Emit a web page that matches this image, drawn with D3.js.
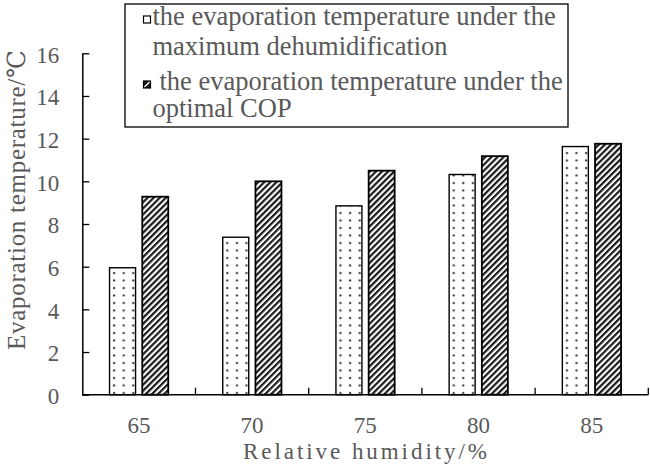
<!DOCTYPE html>
<html>
<head>
<meta charset="utf-8">
<script src="https://cdn.jsdelivr.net/npm/d3@7"></script>
<style>
    body { margin: 0; background: #fff; }
</style>
</head>
<body>
<div id="chart"></div>
<script>
// chart values
var categories = ['65', '70', '75', '80', '85'];
var seriesNames = [
    ['the evaporation temperature under the', 'maximum dehumidification'],
    ['the evaporation temperature under the', 'optimal COP'],
];
var maxDehumidification = [5.95, 7.38, 8.85, 10.32, 11.63];
var optimalCop = [9.28, 10.0, 10.5, 11.18, 11.76];
var yTicks = [0, 2, 4, 6, 8, 10, 12, 14, 16];

var FONT = '"Liberation Serif", "Times New Roman", "DejaVu Serif", serif';
var TEXT = '#595959';

var width = 650, height = 465;
var margin = {left: 82.3, right: 1.7, top: 53.3, bottom: 70.3};

var svg = d3.select('#chart').append('svg')
    .attr('width', width)
    .attr('height', height)
    .attr('font-family', FONT);

var defs = svg.append('defs');

var dots = defs.append('pattern')
    .attr('id', 'dots')
    .attr('patternUnits', 'userSpaceOnUse')
    .attr('width', 9.6)
    .attr('height', 7.5);
dots.append('rect').attr('width', 9.6).attr('height', 7.5).attr('fill', '#fff');
dots.append('circle').attr('cx', 3).attr('cy', 3).attr('r', 1.1).attr('fill', '#333');

var hatch = defs.append('pattern')
    .attr('id', 'hatch')
    .attr('patternUnits', 'userSpaceOnUse')
    .attr('width', 4.3)
    .attr('height', 10)
    .attr('patternTransform', 'rotate(45)');
hatch.append('rect').attr('width', 4.3).attr('height', 10).attr('fill', '#fff');
hatch.append('rect').attr('width', 2.2).attr('height', 10).attr('fill', '#1a1a1a');

var x0 = d3.scaleBand()
    .domain(categories)
    .range([margin.left, width - margin.right])
    .padding(0);

var x1 = d3.scaleBand()
    .domain([0, 1])
    .range([0, x0.bandwidth()])
    .paddingInner(0.205)
    .paddingOuter(0.833);

var y = d3.scaleLinear()
    .domain([0, 16])
    .range([height - margin.bottom, margin.top]);

var rows = categories.map((c, i) => ({
    category: c,
    values: [maxDehumidification[i], optimalCop[i]],
}));
var fills = ['url(#dots)', 'url(#hatch)'];

// bars
var groups = svg.selectAll('g.group')
    .data(rows)
    .enter()
    .append('g')
    .attr('class', 'group')
    .attr('transform', d => `translate(${x0(d.category)}, 0)`);

groups.selectAll('rect')
    .data(d => d.values)
    .enter()
    .append('rect')
    .attr('x', (d, i) => x1(i))
    .attr('width', x1.bandwidth())
    .attr('y', d => y(d))
    .attr('height', d => y(0) - y(d))
    .attr('fill', (d, i) => fills[i])
    .attr('stroke', '#000')
    .attr('stroke-width', (d, i) => i ? 1.8 : 1.4);

// y axis, ticks pointing inward
var yAxis = svg.append('g')
    .attr('transform', `translate(${margin.left}, 0)`)
    .call(d3.axisRight(y).tickValues(yTicks).tickSize(7).tickSizeOuter(0).tickFormat(d3.format('d')));
yAxis.attr('font-family', FONT);
yAxis.select('.domain').attr('stroke', '#000').attr('stroke-width', 1.5);
yAxis.selectAll('.tick line').attr('stroke', '#000').attr('stroke-width', 1.3);
yAxis.selectAll('.tick text')
    .attr('x', -23)
    .attr('dy', '0.38em')
    .attr('text-anchor', 'end')
    .attr('fill', TEXT)
    .attr('font-size', 23);

// x axis, ticks at category boundaries pointing inward
var xAxis = svg.append('g')
    .attr('transform', `translate(0, ${y(0)})`);
xAxis.append('line')
    .attr('x1', x0.range()[0])
    .attr('x2', x0.range()[1])
    .attr('stroke', '#000')
    .attr('stroke-width', 1.5);
xAxis.selectAll('line.tick')
    .data(categories)
    .enter()
    .append('line')
    .attr('class', 'tick')
    .attr('x1', d => x0(d) + x0.bandwidth())
    .attr('x2', d => x0(d) + x0.bandwidth())
    .attr('y1', 0)
    .attr('y2', -7)
    .attr('stroke', '#000')
    .attr('stroke-width', 1.3);
xAxis.selectAll('text')
    .data(categories)
    .enter()
    .append('text')
    .attr('x', d => x0(d) + x0.bandwidth() / 2)
    .attr('y', 38)
    .attr('text-anchor', 'middle')
    .attr('fill', TEXT)
    .attr('font-size', 23)
    .text(d => d);

// axis titles
svg.append('text')
    .attr('x', 243)
    .attr('y', 459)
    .attr('fill', TEXT)
    .attr('font-size', 23)
    .attr('textLength', 244)
    .attr('lengthAdjust', 'spacing')
    .text('Relative humidity/%');

svg.append('text')
    .attr('transform', 'translate(25, 350) rotate(-90)')
    .attr('fill', TEXT)
    .attr('font-size', 25)
    .attr('textLength', 300)
    .attr('lengthAdjust', 'spacing')
    .text('Evaporation temperature/\u2103');

// legend
var legend = svg.append('g');
legend.append('rect')
    .attr('x', 125)
    .attr('y', 4)
    .attr('width', 443)
    .attr('height', 123)
    .attr('fill', '#fff')
    .attr('stroke', '#000')
    .attr('stroke-width', 1.3);

var legendTop = [25, 90];
var legendLineGap = [30, 27];
var legendTextX = [152.5, 159.5];
seriesNames.forEach((lines, i) => {
    legend.append('rect')
        .attr('x', 143.5)
        .attr('y', legendTop[i] - 9)
        .attr('width', 7)
        .attr('height', 7)
        .attr('fill', i ? '#1a1a1a' : '#fff')
        .attr('stroke', '#000')
        .attr('stroke-width', 1.2);
    if (i) {
        legend.append('line')
            .attr('x1', 144.5).attr('y1', legendTop[i] - 3)
            .attr('x2', 149.5).attr('y2', legendTop[i] - 8)
            .attr('stroke', '#fff')
            .attr('stroke-width', 1.2);
    }
    lines.forEach((t, j) => {
        legend.append('text')
            .attr('x', j ? 152.5 : legendTextX[i])
            .attr('y', legendTop[i] + j * legendLineGap[i])
            .attr('font-size', 26.5)
            .attr('fill', TEXT)
            .text(t);
    });
});
</script>
</body>
</html>
